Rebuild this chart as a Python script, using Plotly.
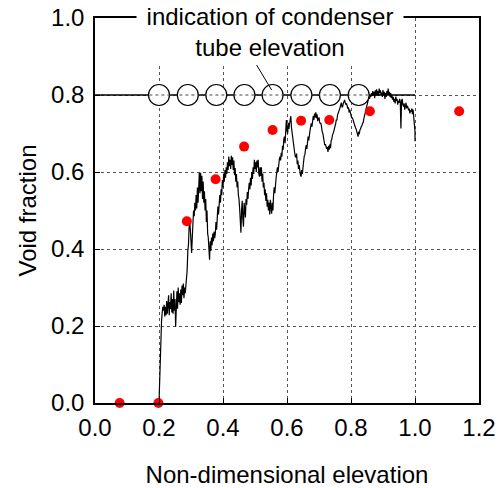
import plotly.graph_objects as go

# Experimental void fraction (red dots)
exp_x = [0.077, 0.198, 0.287, 0.377, 0.466, 0.555, 0.644, 0.732, 0.859, 1.138]
exp_y = [0.000, 0.000, 0.472, 0.581, 0.666, 0.709, 0.733, 0.735, 0.758, 0.758]

# Condenser tube elevations (open circles)
tube_x = [0.200, 0.290, 0.379, 0.467, 0.555, 0.645, 0.734, 0.824]
tube_y = [0.8, 0.8, 0.8, 0.8, 0.8, 0.8, 0.8, 0.8]

# Indication line of condenser tube level
level_x = [0.0, 1.0]
level_y = [0.8, 0.8]

# Simulated void fraction (black noisy line)
sim_x = [
    0.200, 0.203, 0.206, 0.208, 0.210, 0.212, 0.214, 0.216, 0.218, 0.220,
    0.222, 0.224, 0.226, 0.228, 0.230, 0.232, 0.234, 0.236, 0.238, 0.240,
    0.242, 0.244, 0.246, 0.248, 0.250, 0.252, 0.254, 0.256, 0.258, 0.260,
    0.262, 0.264, 0.266, 0.268, 0.270, 0.272, 0.274, 0.276, 0.278, 0.280,
    0.282, 0.284, 0.286, 0.288, 0.290, 0.292, 0.294, 0.296, 0.298, 0.300,
    0.302, 0.304, 0.306, 0.308, 0.310, 0.312, 0.314, 0.316, 0.318, 0.320,
    0.322, 0.324, 0.326, 0.328, 0.330, 0.332, 0.334, 0.336, 0.338, 0.340,
    0.342, 0.344, 0.346, 0.348, 0.350, 0.352, 0.354, 0.356, 0.358, 0.360,
    0.362, 0.364, 0.366, 0.368, 0.370, 0.372, 0.374, 0.376, 0.378, 0.380,
    0.382, 0.384, 0.386, 0.388, 0.390, 0.392, 0.394, 0.396, 0.398, 0.400,
    0.402, 0.404, 0.406, 0.408, 0.410, 0.412, 0.414, 0.416, 0.418, 0.420,
    0.422, 0.424, 0.426, 0.428, 0.430, 0.432, 0.434, 0.436, 0.438, 0.440,
    0.442, 0.444, 0.446, 0.448, 0.450, 0.452, 0.454, 0.456, 0.458, 0.460,
    0.462, 0.464, 0.466, 0.468, 0.470, 0.472, 0.474, 0.476, 0.478, 0.480,
    0.482, 0.484, 0.486, 0.488, 0.490, 0.492, 0.494, 0.496, 0.498, 0.500,
    0.502, 0.504, 0.506, 0.508, 0.510, 0.512, 0.514, 0.516, 0.518, 0.520,
    0.522, 0.524, 0.526, 0.528, 0.530, 0.532, 0.534, 0.536, 0.538, 0.540,
    0.542, 0.544, 0.546, 0.548, 0.550, 0.552, 0.554, 0.556, 0.558, 0.560,
    0.562, 0.564, 0.566, 0.568, 0.570, 0.572, 0.574, 0.576, 0.578, 0.580,
    0.582, 0.584, 0.586, 0.588, 0.590, 0.592, 0.594, 0.596, 0.598, 0.600,
    0.602, 0.604, 0.606, 0.608, 0.610, 0.612, 0.614, 0.616, 0.618, 0.620,
    0.622, 0.624, 0.626, 0.628, 0.630, 0.632, 0.634, 0.636, 0.638, 0.640,
    0.642, 0.644, 0.646, 0.648, 0.650, 0.652, 0.654, 0.656, 0.658, 0.660,
    0.662, 0.664, 0.666, 0.668, 0.670, 0.672, 0.674, 0.676, 0.678, 0.680,
    0.682, 0.684, 0.686, 0.688, 0.690, 0.692, 0.694, 0.696, 0.698, 0.700,
    0.702, 0.704, 0.706, 0.708, 0.710, 0.712, 0.714, 0.716, 0.718, 0.720,
    0.722, 0.724, 0.726, 0.728, 0.730, 0.732, 0.734, 0.736, 0.738, 0.740,
    0.742, 0.744, 0.746, 0.748, 0.750, 0.752, 0.754, 0.756, 0.758, 0.760,
    0.762, 0.764, 0.766, 0.768, 0.770, 0.772, 0.774, 0.776, 0.778, 0.780,
    0.782, 0.784, 0.786, 0.788, 0.790, 0.792, 0.794, 0.796, 0.798, 0.800,
    0.802, 0.804, 0.806, 0.808, 0.810, 0.812, 0.814, 0.816, 0.818, 0.820,
    0.822, 0.824, 0.826, 0.828, 0.830, 0.832, 0.834, 0.836, 0.838, 0.840,
    0.842, 0.844, 0.846, 0.848, 0.850, 0.852, 0.854, 0.856, 0.858, 0.860,
    0.862, 0.864, 0.866, 0.868, 0.870, 0.872, 0.874, 0.876, 0.878, 0.880,
    0.882, 0.884, 0.886, 0.888, 0.890, 0.892, 0.894, 0.896, 0.898, 0.900,
    0.902, 0.904, 0.906, 0.908, 0.910, 0.912, 0.914, 0.916, 0.918, 0.920,
    0.922, 0.924, 0.926, 0.928, 0.930, 0.932, 0.934, 0.936, 0.938, 0.940,
    0.942, 0.944, 0.946, 0.948, 0.950, 0.952, 0.954, 0.956, 0.958, 0.960,
    0.962, 0.964, 0.966, 0.968, 0.970, 0.972, 0.974, 0.976, 0.978, 0.980,
    0.982, 0.984, 0.986, 0.988, 0.990, 0.992, 0.994, 0.996, 0.998, 1.000,
    1.000,
]
sim_y = [
    0.000, 0.110, 0.180, 0.215, 0.235, 0.250, 0.240, 0.255, 0.225, 0.250,
    0.228, 0.265, 0.232, 0.258, 0.280, 0.228, 0.262, 0.244, 0.285, 0.235,
    0.270, 0.232, 0.292, 0.240, 0.270, 0.198, 0.262, 0.290, 0.245, 0.300,
    0.262, 0.285, 0.255, 0.295, 0.260, 0.305, 0.280, 0.310, 0.272, 0.300,
    0.285, 0.300, 0.320, 0.345, 0.395, 0.410, 0.455, 0.470, 0.450, 0.410,
    0.390, 0.430, 0.470, 0.500, 0.485, 0.520, 0.500, 0.540, 0.505, 0.560,
    0.520, 0.575, 0.598, 0.545, 0.598, 0.550, 0.590, 0.530, 0.575, 0.520,
    0.550, 0.500, 0.530, 0.470, 0.500, 0.440, 0.430, 0.400, 0.372, 0.420,
    0.395, 0.430, 0.410, 0.440, 0.420, 0.445, 0.428, 0.440, 0.470, 0.450,
    0.490, 0.510, 0.490, 0.527, 0.540, 0.520, 0.555, 0.540, 0.579, 0.560,
    0.596, 0.575, 0.605, 0.585, 0.612, 0.595, 0.625, 0.605, 0.640, 0.615,
    0.632, 0.608, 0.642, 0.618, 0.638, 0.605, 0.630, 0.592, 0.610, 0.575,
    0.595, 0.560, 0.575, 0.540, 0.530, 0.505, 0.470, 0.442, 0.500, 0.525,
    0.478, 0.458, 0.520, 0.495, 0.482, 0.530, 0.515, 0.548, 0.530, 0.555,
    0.572, 0.555, 0.585, 0.565, 0.600, 0.582, 0.612, 0.595, 0.632, 0.608,
    0.625, 0.600, 0.630, 0.612, 0.632, 0.595, 0.588, 0.612, 0.590, 0.612,
    0.575, 0.596, 0.560, 0.572, 0.540, 0.555, 0.525, 0.545, 0.510, 0.528,
    0.500, 0.520, 0.490, 0.528, 0.495, 0.492, 0.520, 0.500, 0.540, 0.560,
    0.545, 0.575, 0.585, 0.598, 0.612, 0.600, 0.625, 0.632, 0.640, 0.630,
    0.650, 0.640, 0.668, 0.658, 0.685, 0.692, 0.675, 0.710, 0.735, 0.708,
    0.700, 0.728, 0.712, 0.726, 0.740, 0.745, 0.715, 0.698, 0.688, 0.668,
    0.658, 0.650, 0.640, 0.638, 0.648, 0.620, 0.630, 0.608, 0.618, 0.598,
    0.592, 0.588, 0.605, 0.595, 0.625, 0.628, 0.642, 0.645, 0.660, 0.670,
    0.660, 0.685, 0.692, 0.682, 0.705, 0.708, 0.718, 0.726, 0.718, 0.738,
    0.745, 0.735, 0.752, 0.742, 0.755, 0.740, 0.750, 0.732, 0.735, 0.742,
    0.730, 0.725, 0.728, 0.708, 0.705, 0.700, 0.685, 0.685, 0.670, 0.672,
    0.662, 0.660, 0.665, 0.652, 0.668, 0.658, 0.672, 0.662, 0.682, 0.685,
    0.695, 0.698, 0.705, 0.712, 0.716, 0.725, 0.735, 0.735, 0.748, 0.752,
    0.758, 0.760, 0.768, 0.775, 0.780, 0.768, 0.770, 0.778, 0.785, 0.787,
    0.780, 0.775, 0.778, 0.765, 0.765, 0.768, 0.755, 0.762, 0.752, 0.750,
    0.740, 0.742, 0.735, 0.735, 0.725, 0.720, 0.715, 0.712, 0.705, 0.698,
    0.692, 0.705, 0.698, 0.710, 0.712, 0.718, 0.720, 0.726, 0.728, 0.738,
    0.745, 0.752, 0.760, 0.770, 0.778, 0.785, 0.788, 0.795, 0.790, 0.800,
    0.795, 0.805, 0.798, 0.810, 0.800, 0.808, 0.792, 0.812, 0.798, 0.815,
    0.800, 0.810, 0.798, 0.817, 0.805, 0.812, 0.800, 0.806, 0.795, 0.813,
    0.800, 0.808, 0.790, 0.805, 0.795, 0.810, 0.800, 0.817, 0.800, 0.808,
    0.795, 0.805, 0.792, 0.800, 0.788, 0.795, 0.782, 0.790, 0.778, 0.796,
    0.785, 0.790, 0.775, 0.785, 0.780, 0.790, 0.782, 0.713, 0.785, 0.790,
    0.775, 0.770, 0.778, 0.762, 0.770, 0.780, 0.765, 0.772, 0.768, 0.760,
    0.765, 0.752, 0.760, 0.757, 0.765, 0.750, 0.762, 0.745, 0.742, 0.705,
    0.680,
]

# Axis ticks
x_ticks = [0.0, 0.2, 0.4, 0.6, 0.8, 1.0, 1.2]
y_ticks = [0.0, 0.2, 0.4, 0.6, 0.8, 1.0]

FONT = "Arial, 'Liberation Sans', sans-serif"
FS = 24

fig = go.Figure()

fig.add_trace(go.Scatter(
    x=sim_x, y=sim_y, mode="lines",
    line=dict(color="black", width=1.2),
    showlegend=False, hoverinfo="skip",
))
fig.add_trace(go.Scatter(
    x=level_x, y=level_y, mode="lines",
    line=dict(color="black", width=1.3),
    showlegend=False, hoverinfo="skip",
))
fig.add_trace(go.Scatter(
    x=tube_x, y=tube_y, mode="markers",
    marker=dict(symbol="circle", size=21, color="white",
                line=dict(color="black", width=1.2)),
    showlegend=False, hoverinfo="skip", cliponaxis=False,
))
fig.add_trace(go.Scatter(
    x=[tube_x[0] - 0.03, tube_x[-1] + 0.03], y=[tube_y[0], tube_y[-1]],
    mode="lines",
    line=dict(color="#444444", width=1, dash="dot"),
    showlegend=False, hoverinfo="skip",
))
fig.add_trace(go.Scatter(
    x=exp_x, y=exp_y, mode="markers",
    marker=dict(symbol="circle", size=10, color="#ff0000",
                line=dict(width=0)),
    showlegend=False, hoverinfo="skip", cliponaxis=False,
))

# Pointer line from label to a tube circle
fig.add_shape(type="line", xref="x", yref="y",
              x0=0.505, y0=0.878, x1=0.552, y1=0.813,
              line=dict(color="black", width=1))

fig.add_annotation(
    x=0.547, y=0.9626, xref="x", yref="y",
    text="indication of condenser<br>tube elevation",
    showarrow=False, xanchor="center", yanchor="middle",
    font=dict(family=FONT, size=FS, color="black"),
    bgcolor="white", width=262, height=60, borderpad=2,
)

axis_common = dict(
    showline=True, linecolor="black", linewidth=1.5, mirror=True,
    ticks="inside", ticklen=5, tickwidth=1, tickcolor="black",
    showgrid=True, gridcolor="#555555", gridwidth=1, griddash="dot",
    zeroline=False, tickformat=".1f", automargin=False,
    tickfont=dict(family=FONT, size=FS, color="black"),
)

fig.update_layout(
    width=504, height=488,
    margin=dict(l=95, r=25, t=18, b=85),
    paper_bgcolor="white", plot_bgcolor="white",
    hovermode=False,
    xaxis=dict(range=[0, 1.2], tickvals=x_ticks, ticklabelstandoff=2,
               title=dict(text="Non-dimensional elevation",
                          font=dict(family=FONT, size=FS, color="black"),
                          standoff=27),
               **axis_common),
    yaxis=dict(range=[0, 1.0], tickvals=y_ticks, ticklabelstandoff=4,
               title=dict(text="Void fraction",
                          font=dict(family=FONT, size=FS, color="black"),
                          standoff=8),
               **axis_common),
)

fig.write_html(
    "out.html",
    config={"displayModeBar": False},
    post_script="document.body.style.margin='0';document.body.style.padding='0';",
)
